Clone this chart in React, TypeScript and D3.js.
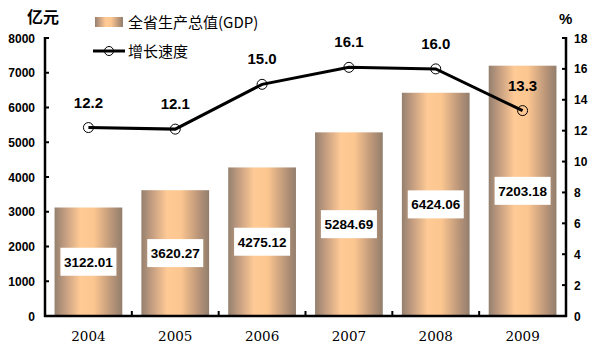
import React from "react";
import * as d3 from "d3";

const years = ["2004", "2005", "2006", "2007", "2008", "2009"];
const gdp = [3122.01, 3620.27, 4275.12, 5284.69, 6424.06, 7203.18];
const growth = [12.2, 12.1, 15.0, 16.1, 16.0, 13.3];
const leftTicks = [0, 1000, 2000, 3000, 4000, 5000, 6000, 7000, 8000];
const rightTicks = [0, 2, 4, 6, 8, 10, 12, 14, 16, 18];

export default function App() {
  const W = 597, H = 355;
  const left = 45, right = 566, top = 38, bottom = 316;
  const x = d3.scaleBand<string>().domain(years).range([left, right]).paddingInner(0.22).paddingOuter(0.11);
  const xb = d3.scaleBand<string>().domain(years).range([left, right]);
  const yL = d3.scaleLinear().domain([0, 8000]).range([bottom, top]);
  const yR = d3.scaleLinear().domain([0, 18]).range([bottom, top]);
  const line = d3.line<number>()
    .x((_, i) => xb(years[i])! + xb.bandwidth() / 2)
    .y((d) => yR(d));
  const font = "Arial, 'Liberation Sans', sans-serif";
  return (
    <svg width={W} height={H} style={{ position: "absolute", left: 0, top: 0 }}>
      <defs>
        <linearGradient id="bar" x1="0" x2="1" y1="0" y2="0">
          <stop offset="0%" stopColor="#94806f" />
          <stop offset="15%" stopColor="#c29c80" />
          <stop offset="38%" stopColor="#ffca95" />
          <stop offset="58%" stopColor="#fcc690" />
          <stop offset="85%" stopColor="#b89478" />
          <stop offset="100%" stopColor="#927e6d" />
        </linearGradient>
      </defs>
      <rect width={W} height={H} fill="#fff" />
      {years.map((yr, i) => (
        <rect key={yr} x={x(yr)} y={yL(gdp[i])} width={x.bandwidth()} height={bottom - yL(gdp[i])} fill="url(#bar)" />
      ))}
      {years.map((yr, i) => {
        const cx = x(yr)! + x.bandwidth() / 2;
        const cy = (yL(gdp[i]) + bottom) / 2;
        return (
          <g key={"l" + yr}>
            <rect x={cx - 28} y={cy - 14} width={56} height={28} fill="#fff" />
            <text x={cx} y={cy + 5} textAnchor="middle" fontFamily={font} fontWeight="bold" fontSize={13.5}>
              {gdp[i].toFixed(2)}
            </text>
          </g>
        );
      })}
      {/* axes */}
      <g stroke="#000" strokeWidth={2.5} fill="none">
        <line x1={left} y1={top - 1} x2={left} y2={bottom + 1} />
        <line x1={right} y1={top - 1} x2={right} y2={bottom + 1} />
        <line x1={left - 1} y1={bottom} x2={right + 1} y2={bottom} />
      </g>
      <g stroke="#000" strokeWidth={2}>
        {leftTicks.map((t) => (
          <line key={"lt" + t} x1={left} x2={left + 4} y1={yL(t)} y2={yL(t)} />
        ))}
        {rightTicks.map((t) => (
          <line key={"rt" + t} x1={right - 4} x2={right} y1={yR(t)} y2={yR(t)} />
        ))}
        {years.slice(1).map((yr) => (
          <line key={"bt" + yr} x1={xb(yr)} x2={xb(yr)} y1={bottom} y2={bottom - 5} />
        ))}
      </g>
      {leftTicks.map((t) => (
        <text key={"ll" + t} x={35} y={yL(t) + 4.5} textAnchor="end" fontFamily={font} fontWeight="bold" fontSize={12}>
          {t}
        </text>
      ))}
      {rightTicks.map((t) => (
        <text key={"rl" + t} x={574} y={yR(t) + 4.5} textAnchor="start" fontFamily={font} fontWeight="bold" fontSize={12}>
          {t}
        </text>
      ))}
      {years.map((yr) => (
        <text key={"xl" + yr} x={xb(yr)! + xb.bandwidth() / 2} y={341} textAnchor="middle" fontFamily="'DejaVu Serif', 'Liberation Serif', serif" fontSize={13.5}>
          {yr}
        </text>
      ))}
      {/* line */}
      <path d={line(growth)!} fill="none" stroke="#000" strokeWidth={3} />
      {growth.map((g, i) => {
        const cx = xb(years[i])! + xb.bandwidth() / 2;
        return (
          <g key={"p" + i}>
            <circle cx={cx} cy={yR(g)} r={5} fill="none" stroke="#000" strokeWidth={1} />
            <text x={cx} y={yR(g) - 20} textAnchor="middle" fontFamily={font} fontWeight="bold" fontSize={15}>
              {g.toFixed(1)}
            </text>
          </g>
        );
      })}
      {/* units */}
      <text x={27} y={23} fontFamily="'Noto Sans CJK SC', sans-serif" fontWeight="bold" fontSize={16}>亿元</text>
      <text x={559} y={24} fontFamily={font} fontWeight="bold" fontSize={15}>%</text>
      {/* legend */}
      <rect x={95} y={17} width={28} height={10} fill="url(#bar)" />
      <text x={128} y={28} fontFamily="'Noto Sans CJK SC', sans-serif" fontSize={15}>全省生产总值(GDP)</text>
      <line x1={93} x2={125} y1={51} y2={51} stroke="#000" strokeWidth={3} />
      <circle cx={109} cy={51} r={4.5} fill="none" stroke="#000" strokeWidth={1} />
      <text x={128} y={57} fontFamily="'Noto Sans CJK SC', sans-serif" fontSize={15}>增长速度</text>
    </svg>
  );
}
